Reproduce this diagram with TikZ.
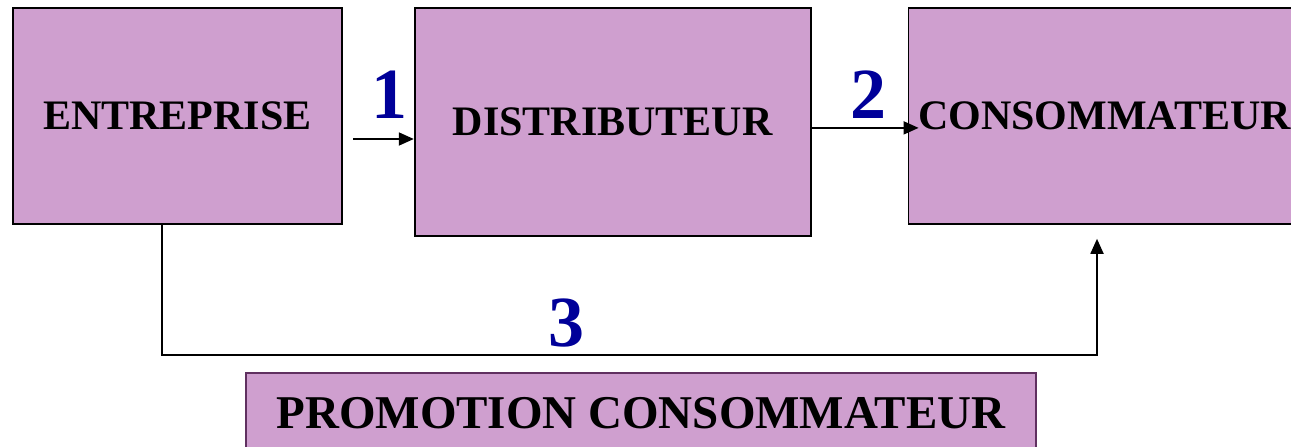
\documentclass[tikz,border=0pt]{standalone}
\usepackage{xcolor}
\definecolor{boxplum}{RGB}{207,159,207}
\definecolor{promoedge}{RGB}{96,48,96}
\definecolor{numblue}{RGB}{0,0,153}
\usepackage{fontspec}
\setmainfont{Liberation Serif}
\usepackage{tikz}
\usetikzlibrary{arrows.meta, positioning, calc}
\tikzset{
  actor/.style={
    rectangle, draw=black, fill=boxplum, line width=1.8pt,
    inner sep=0pt, text centered,
    font=\bfseries\fontsize{42}{50}\selectfont
  },
  promo/.style={
    rectangle, draw=promoedge, fill=boxplum, line width=1.8pt,
    inner sep=0pt, text centered,
    font=\bfseries\fontsize{47}{56}\selectfont
  },
  num/.style={
    text=numblue, inner sep=0pt,
    font=\bfseries\fontsize{72}{80}\selectfont
  },
  arrow/.style={line width=1.8pt, -{Triangle[length=15pt,width=13pt]}, color=black},
}
\begin{document}
\begin{tikzpicture}[x=1pt, y=-1pt]
  \useasboundingbox (0,0) rectangle (1291,447);

  \node (ent)   [actor, minimum width=329pt, minimum height=216pt, anchor=north west] at (12,7) {ENTREPRISE};
  \node (dist)  [actor, minimum width=396pt, minimum height=228pt, right=71pt of ent.north east, anchor=north west] {DISTRIBUTEUR};
  \node (cons)  [actor, minimum width=392pt, minimum height=216pt, right=96pt of dist.north east, anchor=north west] {CONSOMMATEUR};
  \node (promo) [promo, minimum width=790pt, minimum height=80pt, anchor=north west] at (245,372) {PROMOTION CONSOMMATEUR};

  \node (n1) [num] at (389,95)  {1};
  \node (n2) [num] at (868,95)  {2};
  \node (n3) [num] at (566,323) {3};

  \coordinate (a1) at (353,139);
  \coordinate (bend) at (1097,355);

  \draw [arrow] (a1) -- (a1 -| dist.west);
  \draw [arrow] ([yshift=-6pt]dist.east) -- ([shift={(11pt,-12pt)}]cons.west);
  \draw [arrow] ([xshift=-15.5pt]ent.south) |- (bend) -- ([yshift=-14pt]cons.south -| bend);
\end{tikzpicture}
\end{document}
